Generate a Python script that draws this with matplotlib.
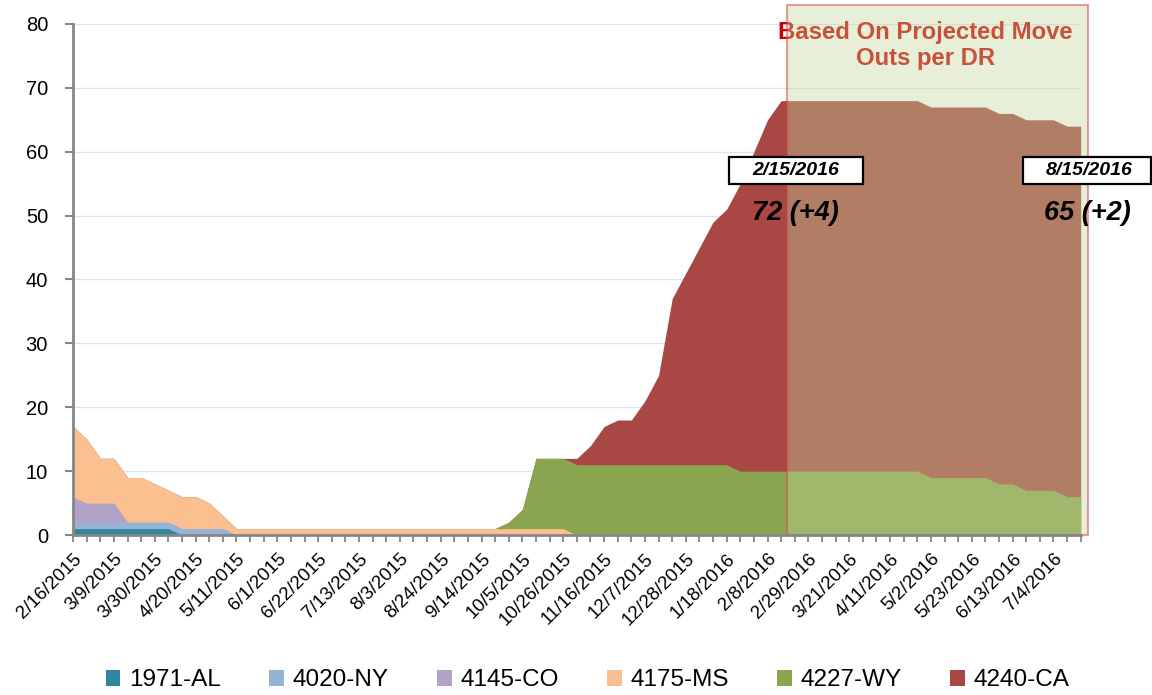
import matplotlib
matplotlib.use("Agg")
import matplotlib.pyplot as plt
from matplotlib.patches import Rectangle
import numpy as np

plt.rcParams['font.family'] = ['Liberation Sans', 'DejaVu Sans']

# weekly categories, 2/16/2015 .. 7/18/2016 (75 weeks), labels every 3rd week
tick_labels = ["2/16/2015", "3/9/2015", "3/30/2015", "4/20/2015", "5/11/2015",
               "6/1/2015", "6/22/2015", "7/13/2015", "8/3/2015", "8/24/2015",
               "9/14/2015", "10/5/2015", "10/26/2015", "11/16/2015", "12/7/2015",
               "12/28/2015", "1/18/2016", "2/8/2016", "2/29/2016", "3/21/2016",
               "4/11/2016", "5/2/2016", "5/23/2016", "6/13/2016", "7/4/2016"]
n_weeks = 75

series_names = ["1971-AL", "4020-NY", "4145-CO", "4175-MS", "4227-WY", "4240-CA"]
series_colors = ["#31859c", "#95b3d7", "#b3a2c7", "#fac090", "#8aa54f", "#a84744"]

al = [1] * 8 + [0] * 67
ny = [1] * 12 + [0] * 63
co = [4, 3, 3, 3] + [0] * 71
ms = [11, 10, 7, 7, 7, 7, 6, 5, 5, 5, 4, 2] + [1] * 25 + [0] * 38
wy = ([0] * 32 + [1, 3] + [11] * 15 + [10] * 14 + [9] * 5 + [8] * 2
      + [7] * 3 + [6] * 2)
ca = ([0] * 37 + [1, 3, 6, 7, 7, 10, 14, 26, 30, 34, 38, 40, 45, 50, 55]
      + [58] * 23)

x = np.arange(n_weeks)

fig = plt.figure(figsize=(11.52, 6.95), dpi=100)
ax = fig.add_axes([0.0634, 0.2302, 0.8747, 0.7353])

# stacked areas: draw cumulative totals from the top series down so that
# zero-height layers leave no seams
stack = np.cumsum(np.array([al, ny, co, ms, wy, ca], dtype=float), axis=0)
handles = [None] * len(series_names)
for k in range(len(series_names) - 1, -1, -1):
    handles[k] = ax.fill_between(x, 0, stack[k], color=series_colors[k],
                                 linewidth=0, zorder=2)

ax.set_xlim(0, n_weeks - 1)
ax.set_ylim(0, 80)
ax.set_yticks(range(0, 81, 10))
ax.tick_params(axis='y', labelsize=14.5, length=6, width=1.5, color='#868686',
               pad=12)
for yv in range(10, 81, 10):
    ax.axhline(yv, color='#dce3f0', lw=1, zorder=1)

ax.set_xticks(x)
labels = [""] * n_weeks
for k, lab in enumerate(tick_labels):
    labels[3 * k] = lab
ax.set_xticklabels(labels, rotation=45, ha='right', rotation_mode='anchor',
                   fontsize=13.5)
ax.tick_params(axis='x', length=5, width=1.3, color='#868686', pad=6)

for s in ['top', 'right']:
    ax.spines[s].set_visible(False)
for s in ['left', 'bottom']:
    ax.spines[s].set_color('#868686')
    ax.spines[s].set_linewidth(2)
    ax.spines[s].set_zorder(5)

# projected region
ax.text(62.6, 76.6, "Based On Projected Move\nOuts per DR", ha='center',
        va='center', fontsize=17.2, fontweight='bold', color='#cc0000',
        linespacing=1.2, zorder=3)
ax.add_patch(Rectangle((52.4, 0), 22.15, 82.9,
                       facecolor=(0.77, 0.84, 0.61, 0.38),
                       edgecolor=(0.82, 0.25, 0.25, 0.5), lw=1.5,
                       clip_on=False, zorder=4))

# date boxes and counts
for bx, bw, tx, date in [(48.19, 9.84, 53.08, "2/15/2016"),
                         (69.73, 9.45, 74.6, "8/15/2016")]:
    ax.add_patch(Rectangle((bx, 55.0), bw, 4.1, facecolor='white',
                           edgecolor='black', lw=1.6, clip_on=False, zorder=6))
    ax.text(tx, 57.1, date, ha='center', va='center', fontsize=14,
            fontweight='bold', style='italic', zorder=7)
ax.text(53.08, 50.4, "72 (+4)", ha='center', va='center', fontsize=19.5,
        fontweight='bold', style='italic', zorder=7)
ax.text(74.5, 50.4, "65 (+2)", ha='center', va='center', fontsize=19.5,
        fontweight='bold', style='italic', zorder=7, clip_on=False)

fig.legend(handles=handles, labels=series_names, loc='center', ncol=6,
           bbox_to_anchor=(0.51, 0.021), frameon=False, fontsize=17.5,
           handlelength=0.6, handleheight=0.6, handletextpad=0.35,
           columnspacing=2.0)

fig.savefig("out.png", dpi=100)
